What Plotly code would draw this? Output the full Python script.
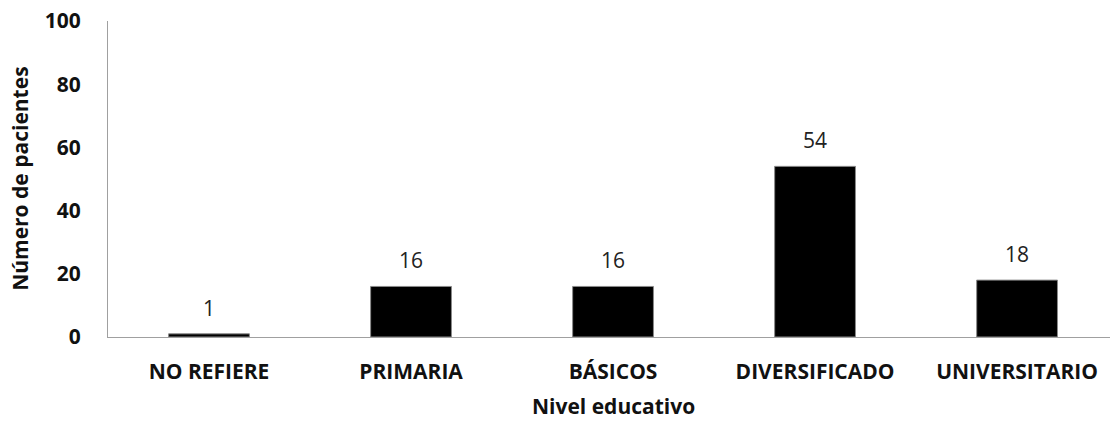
import plotly.graph_objects as go

categories = ["NO REFIERE", "PRIMARIA", "BÁSICOS", "DIVERSIFICADO", "UNIVERSITARIO"]
values = [1, 16, 16, 54, 18]
y_ticks = [0, 20, 40, 60, 80, 100]

FONT = "Open Sans"

fig = go.Figure()
fig.add_trace(go.Bar(
    x=categories, y=values, width=0.4,
    marker=dict(color="black", line=dict(width=1, color="#8a8a8a")),
    showlegend=False, hoverinfo="skip",
))

for c, v in zip(categories, values):
    fig.add_annotation(x=c, y=v, text=str(v), showarrow=False, yshift=26,
                       font=dict(family=FONT, size=21, color="#222"))

fig.add_annotation(xref="paper", yref="paper", x=0.504, y=-0.269, text="<b>Nivel educativo</b>",
                   showarrow=False, yanchor="bottom", font=dict(family=FONT, size=21, color="#111"))
fig.add_annotation(xref="paper", yref="paper", x=-0.088, y=0.5, text="<b>Número de pacientes</b>",
                   showarrow=False, textangle=-90, xanchor="center",
                   font=dict(family=FONT, size=21, color="#111"))

fig.update_layout(
    width=1110, height=423,
    margin=dict(l=108, r=0, t=21, b=86),
    paper_bgcolor="white", plot_bgcolor="white",
    xaxis=dict(range=[-0.5, 4.46], showline=True, linecolor="#a0a0a0", linewidth=1,
               showgrid=False, ticks="", ticklabelstandoff=16,
               tickfont=dict(family=FONT, size=21, color="#111", weight="bold")),
    yaxis=dict(range=[0, 100], tickvals=y_ticks, showline=True, linecolor="#a0a0a0", linewidth=1,
               showgrid=False, zeroline=False, ticks="", ticklabelstandoff=22,
               tickfont=dict(family=FONT, size=21, color="#111", weight="bold")),
)

fig.write_html("out.html")
